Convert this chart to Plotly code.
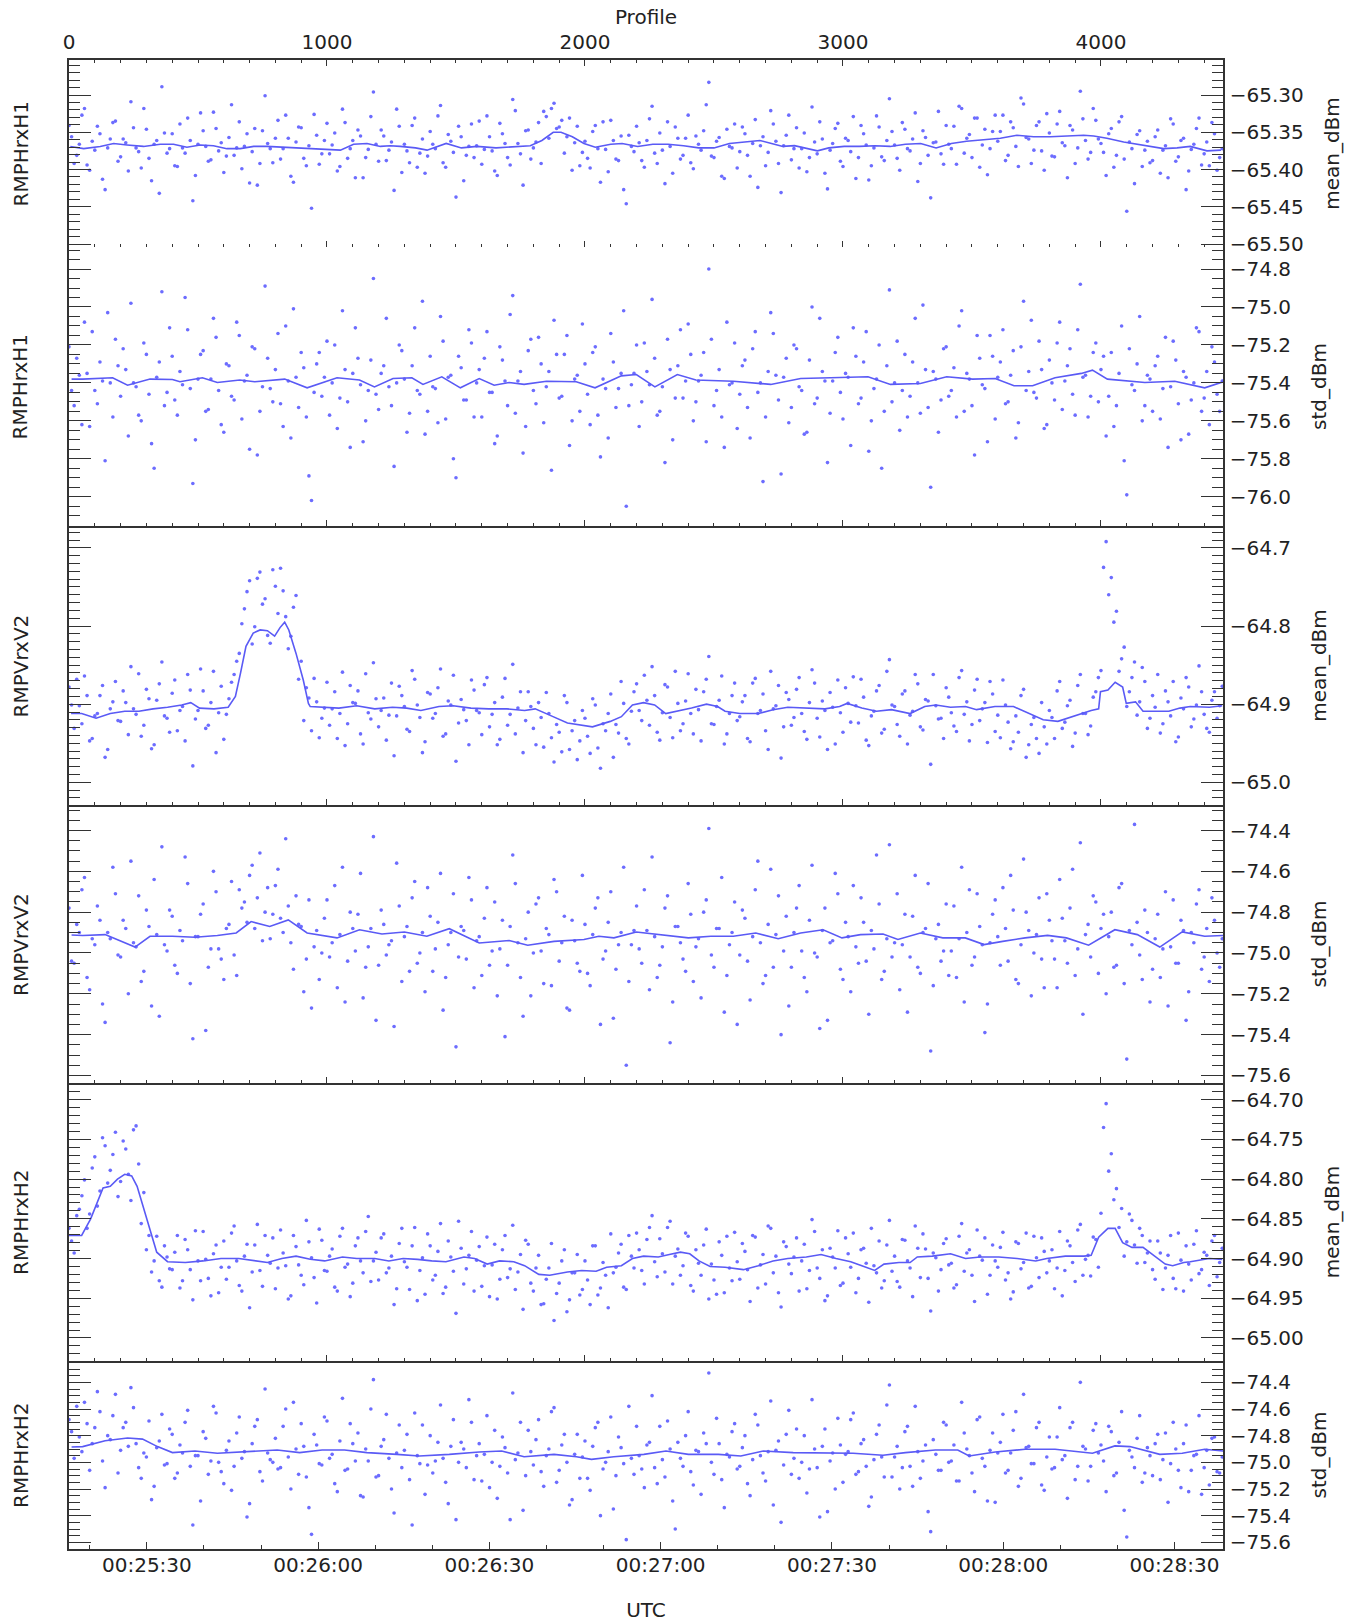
import plotly.graph_objects as go
from plotly.subplots import make_subplots

# axis extents (profile number on top, UTC on bottom)
PROFILE_MAX = 4473
T_START = "2024-01-01 00:25:16.36"
T_END = "2024-01-01 00:28:38.50"

ROW_LABELS = ["RMPHrxH1", "RMPHrxH1", "RMPVrxV2", "RMPVrxV2", "RMPHrxH2", "RMPHrxH2"]
UNIT_LABELS = ["mean_dBm", "std_dBm", "mean_dBm", "std_dBm", "mean_dBm", "std_dBm"]

# dots sampled every 20 profiles, two interleaved sets
SCATTER_PROFILE_A = list(range(0, 4480, 20))
SCATTER_PROFILE_B = list(range(10, 4490, 20))

H1_MEAN_PTS_A = [
    -65.341, -65.392, -65.366, -65.318, -65.401, -65.374, -65.352, -65.427, -65.359, -65.335,
    -65.383, -65.364, -65.309, -65.371, -65.398, -65.346, -65.415, -65.361, -65.289, -65.378,
    -65.352, -65.396, -65.371, -65.331, -65.442, -65.366, -65.348, -65.389, -65.323, -65.375,
    -65.404, -65.357, -65.381, -65.336, -65.369, -65.418, -65.345, -65.392, -65.301, -65.372,
    -65.358, -65.386, -65.327, -65.409, -65.363, -65.344, -65.395, -65.452, -65.354, -65.379,
    -65.338, -65.367, -65.402, -65.319, -65.385, -65.361, -65.347, -65.411, -65.373, -65.296,
    -65.389, -65.355, -65.374, -65.428, -65.342, -65.366, -65.391, -65.331, -65.378, -65.405,
    -65.349, -65.372, -65.314, -65.397, -65.362, -65.437, -65.356, -65.381, -65.339, -65.368,
    -65.393, -65.328, -65.375, -65.408, -65.352, -65.384, -65.306, -65.365, -65.421, -65.347,
    -65.371, -65.337, -65.322, -65.358, -65.311, -65.343, -65.378, -65.331, -65.364, -65.395,
    -65.362, -65.398, -65.341, -65.417, -65.373, -65.334, -65.386, -65.355, -65.446, -65.369,
    -65.342, -65.388, -65.361, -65.315, -65.392, -65.374, -65.336, -65.405, -65.358, -65.381,
    -65.327, -65.399, -65.366, -65.348, -65.283, -65.384, -65.357, -65.412, -65.369, -65.339,
    -65.376, -65.352, -65.409, -65.333, -65.368, -65.395, -65.321, -65.362, -65.431, -65.354,
    -65.387, -65.344, -65.372, -65.403, -65.316, -65.379, -65.359, -65.426, -65.365, -65.338,
    -65.396, -65.361, -65.329, -65.384, -65.352, -65.414, -65.371, -65.343, -65.388, -65.305,
    -65.367, -65.401, -65.346, -65.375, -65.324, -65.392, -65.357, -65.438, -65.363, -65.379,
    -65.341, -65.372, -65.393, -65.318, -65.358, -65.384, -65.331, -65.367, -65.407, -65.349,
    -65.362, -65.327, -65.381, -65.344, -65.396, -65.312, -65.359, -65.374, -65.336, -65.401,
    -65.351, -65.383, -65.322, -65.368, -65.341, -65.392, -65.295, -65.361, -65.377, -65.334,
    -65.365, -65.408, -65.345, -65.381, -65.329, -65.456, -65.372, -65.353, -65.396, -65.362,
    -65.388, -65.347, -65.374, -65.411, -65.339, -65.383, -65.358, -65.402, -65.366, -65.331,
    -65.379, -65.395, -65.352, -65.384,
]
H1_MEAN_PTS_B = [
    -65.356, -65.381, -65.327, -65.394, -65.362, -65.342, -65.413, -65.371, -65.337, -65.389,
    -65.359, -65.402, -65.344, -65.376, -65.318, -65.385, -65.366, -65.432, -65.351, -65.372,
    -65.395, -65.339, -65.378, -65.361, -65.408, -65.324, -65.369, -65.387, -65.345, -65.364,
    -65.382, -65.313, -65.371, -65.399, -65.352, -65.376, -65.421, -65.348, -65.365, -65.391,
    -65.334, -65.372, -65.358, -65.417, -65.343, -65.385, -65.368, -65.326, -65.393, -65.361,
    -65.379, -65.351, -65.396, -65.337, -65.372, -65.411, -65.355, -65.384, -65.329, -65.366,
    -65.347, -65.388, -65.363, -65.319, -65.404, -65.375, -65.341, -65.397, -65.359, -65.382,
    -65.366, -65.328, -65.391, -65.353, -65.377, -65.342, -65.415, -65.369, -65.384, -65.335,
    -65.373, -65.356, -65.402, -65.338, -65.365, -65.394, -65.321, -65.379, -65.348, -65.386,
    -65.363, -65.392, -65.329, -65.318, -65.345, -65.334, -65.356, -65.401, -65.342, -65.377,
    -65.385, -65.349, -65.372, -65.336, -65.403, -65.361, -65.388, -65.427, -65.354, -65.376,
    -65.364, -65.397, -65.332, -65.378, -65.351, -65.419, -65.369, -65.343, -65.386, -65.358,
    -65.391, -65.355, -65.374, -65.313, -65.382, -65.362, -65.409, -65.346, -65.371, -65.398,
    -65.343, -65.381, -65.365, -65.424, -65.356, -65.377, -65.339, -65.392, -65.368, -65.327,
    -65.372, -65.398, -65.351, -65.384, -65.363, -65.336, -65.405, -65.374, -65.345, -65.389,
    -65.358, -65.376, -65.412, -65.341, -65.367, -65.395, -65.328, -65.383, -65.361, -65.349,
    -65.385, -65.337, -65.372, -65.359, -65.416, -65.348, -65.381, -65.364, -65.322, -65.393,
    -65.366, -65.342, -65.315, -65.378, -65.353, -65.331, -65.397, -65.346, -65.372, -65.327,
    -65.349, -65.388, -65.336, -65.369, -65.304, -65.357, -65.392, -65.341, -65.375, -65.325,
    -65.382, -65.339, -65.364, -65.411, -65.347, -65.371, -65.332, -65.386, -65.318, -65.359,
    -65.377, -65.352, -65.397, -65.336, -65.386, -65.363, -65.419, -65.348, -65.374, -65.391,
    -65.356, -65.405, -65.368, -65.332, -65.389, -65.361, -65.427, -65.373, -65.345, -65.394,
    -65.363, -65.337, -65.401, -65.372,
]
H1_STD_PTS_A = [
    -75.21, -75.52, -75.36, -75.08, -75.63, -75.44, -75.29, -75.81, -75.40, -75.17,
    -75.47, -75.33, -74.98, -75.42, -75.60, -75.25, -75.72, -75.37, -74.92, -75.45,
    -75.26, -75.57, -75.41, -75.12, -75.93, -75.38, -75.23, -75.54, -75.06, -75.44,
    -75.66, -75.31, -75.49, -75.15, -75.39, -75.75, -75.22, -75.55, -74.89, -75.43,
    -75.33, -75.51, -75.10, -75.69, -75.37, -75.24, -75.58, -76.02, -75.30, -75.47,
    -75.18, -75.40, -75.64, -75.02, -75.50, -75.35, -75.27, -75.71, -75.44, -74.85,
    -75.54, -75.31, -75.42, -75.84, -75.20, -75.38, -75.56, -75.11, -75.46, -75.67,
    -75.26, -75.43, -75.05, -75.59, -75.36, -75.90, -75.32, -75.49, -75.19, -75.40,
    -75.58, -75.13, -75.45, -75.68, -75.28, -75.52, -74.94, -75.39, -75.77, -75.23,
    -75.44, -75.16, -75.61, -75.34, -75.07, -75.48, -75.25, -75.73, -75.38, -75.55,
    -75.30, -75.62, -75.21, -75.79, -75.43, -75.14, -75.53, -75.35, -76.05, -75.41,
    -75.20, -75.50, -75.34, -74.96, -75.57, -75.42, -75.17, -75.70, -75.31, -75.48,
    -75.09, -75.60, -75.39, -75.24, -74.80, -75.52, -75.33, -75.74, -75.41, -75.19,
    -75.46, -75.28, -75.69, -75.13, -75.40, -75.58, -75.03, -75.36, -75.88, -75.27,
    -75.53, -75.22, -75.44, -75.66, -75.00, -75.48, -75.34, -75.82, -75.39, -75.16,
    -75.59, -75.37, -75.11, -75.51, -75.29, -75.76, -75.43, -75.20, -75.55, -74.91,
    -75.40, -75.65, -75.25, -75.47, -75.06, -75.56, -75.33, -75.95, -75.38, -75.49,
    -75.21, -75.44, -75.58, -75.02, -75.35, -75.52, -75.15, -75.41, -75.71, -75.26,
    -75.37, -75.12, -75.50, -75.23, -75.61, -74.97, -75.34, -75.45, -75.18, -75.64,
    -75.28, -75.49, -75.08, -75.39, -75.22, -75.57, -74.88, -75.36, -75.47, -75.19,
    -75.33, -75.68, -75.24, -75.52, -75.10, -75.99, -75.41, -75.30, -75.60, -75.36,
    -75.55, -75.26, -75.43, -75.74, -75.18, -75.51, -75.34, -75.67, -75.40, -75.13,
    -75.48, -75.62, -75.29, -75.55,
]
H1_STD_PTS_B = [
    -75.44, -75.27, -75.62, -75.35, -75.13, -75.51, -75.39, -75.03, -75.58, -75.31,
    -75.22, -75.68, -75.40, -75.57, -75.19, -75.46, -75.85, -75.29, -75.52, -75.11,
    -75.49, -75.34, -74.95, -75.43, -75.70, -75.25, -75.55, -75.38, -75.16, -75.62,
    -75.30, -75.47, -75.08, -75.59, -75.36, -75.21, -75.78, -75.42, -75.27, -75.50,
    -75.14, -75.63, -75.39, -75.01, -75.53, -75.32, -75.89, -75.45, -75.24, -75.37,
    -75.57, -75.20, -75.48, -75.33, -75.74, -75.11, -75.41, -75.60, -75.28, -75.46,
    -75.35, -75.06, -75.52, -75.40, -75.23, -75.66, -75.31, -75.44, -74.97, -75.55,
    -75.42, -75.61, -75.18, -75.37, -75.80, -75.26, -75.49, -75.12, -75.58, -75.33,
    -75.27, -75.45, -75.72, -75.21, -75.39, -75.04, -75.56, -75.34, -75.63, -75.17,
    -75.51, -75.30, -75.42, -75.86, -75.25, -75.47, -75.15, -75.60, -75.36, -75.09,
    -75.46, -75.24, -75.57, -75.38, -75.69, -75.29, -75.43, -75.02, -75.52, -75.35,
    -75.63, -75.19, -75.41, -75.27, -75.55, -75.82, -75.33, -75.48, -75.12, -75.39,
    -75.25, -75.50, -75.36, -75.71, -75.17, -75.44, -75.58, -75.08, -75.40, -75.64,
    -75.31, -75.53, -75.22, -75.45, -75.92, -75.34, -75.14, -75.49, -75.37, -75.61,
    -75.20, -75.42, -75.67, -75.28, -75.51, -75.06, -75.39, -75.56, -75.24, -75.45,
    -75.35, -75.73, -75.26, -75.48, -75.13, -75.60, -75.38, -75.85, -75.31, -75.50,
    -75.18, -75.44, -75.58, -75.29, -75.40, -74.99, -75.53, -75.34, -75.66, -75.22,
    -75.47, -75.32, -75.10, -75.55, -75.38, -75.78, -75.27, -75.43, -75.15, -75.59,
    -75.29, -75.51, -75.36, -75.69, -75.21, -75.44, -75.07, -75.48, -75.33, -75.62,
    -75.40, -75.19, -75.54, -75.31, -75.46, -75.12, -75.37, -75.58, -75.24, -75.50,
    -75.26, -75.47, -75.63, -75.35, -75.81, -75.22, -75.44, -75.05, -75.52, -75.38,
    -75.31, -75.59, -75.16, -75.42, -75.28, -75.70, -75.37, -75.49, -75.11, -75.55,
    -75.34, -75.21, -75.46, -75.39,
]
V2_MEAN_PTS_A = [
    -64.878, -64.931, -64.902, -64.864, -64.947, -64.915, -64.889, -64.968, -64.906, -64.871,
    -64.922, -64.898, -64.852, -64.913, -64.941, -64.881, -64.957, -64.895, -64.846, -64.918,
    -64.886, -64.934, -64.903, -64.862, -64.979, -64.908, -64.883, -64.927, -64.858, -64.911,
    -64.945, -64.893, -64.862, -64.835, -64.778, -64.742, -64.801, -64.731, -64.765, -64.822,
    -64.749, -64.726, -64.788, -64.813, -64.761, -64.845, -64.879, -64.934, -64.897, -64.918,
    -64.872, -64.906, -64.944, -64.859, -64.925, -64.898, -64.883, -64.951, -64.911, -64.847,
    -64.929, -64.892, -64.914, -64.966, -64.877, -64.903, -64.935, -64.868, -64.917, -64.948,
    -64.887, -64.912, -64.855, -64.938, -64.901, -64.973, -64.894, -64.921, -64.869, -64.908,
    -64.939, -64.866, -64.913, -64.952, -64.891, -64.927, -64.849, -64.905, -64.962, -64.884,
    -64.931, -64.898, -64.955, -64.912, -64.974, -64.936, -64.889, -64.958, -64.921, -64.947,
    -64.918, -64.963, -64.901, -64.982, -64.934, -64.887, -64.926, -64.871, -64.944, -64.909,
    -64.874, -64.921, -64.895, -64.852, -64.936, -64.911, -64.878, -64.943, -64.899, -64.925,
    -64.861, -64.938, -64.907, -64.884, -64.839, -64.926, -64.895, -64.951, -64.912, -64.873,
    -64.916, -64.889, -64.948, -64.867, -64.908, -64.934, -64.858, -64.902, -64.969, -64.885,
    -64.927, -64.881, -64.912, -64.945, -64.856, -64.918, -64.896, -64.958, -64.904, -64.869,
    -64.936, -64.899, -64.865, -64.924, -64.891, -64.953, -64.909, -64.876, -64.932, -64.843,
    -64.903, -64.941, -64.883, -64.914, -64.862, -64.929, -64.894, -64.977, -64.902, -64.918,
    -64.879, -64.911, -64.935, -64.857, -64.897, -64.926, -64.868, -64.906, -64.949, -64.887,
    -64.914, -64.869, -64.923, -64.948, -64.936, -64.881, -64.952, -64.917, -64.963, -64.929,
    -64.908, -64.944, -64.871, -64.923, -64.895, -64.937, -64.862, -64.912, -64.928, -64.884,
    -64.857, -64.692, -64.738, -64.781, -64.842, -64.903, -64.866, -64.914, -64.853, -64.931,
    -64.889, -64.862, -64.925, -64.897, -64.871, -64.942, -64.906, -64.878, -64.919, -64.851,
    -64.913, -64.936, -64.884, -64.902,
]
V2_MEAN_PTS_B = [
    -64.901, -64.868, -64.925, -64.889, -64.944, -64.912, -64.876, -64.958, -64.897, -64.921,
    -64.883, -64.939, -64.906, -64.861, -64.927, -64.893, -64.952, -64.874, -64.915, -64.936,
    -64.869, -64.908, -64.947, -64.882, -64.919, -64.855, -64.931, -64.898, -64.962, -64.877,
    -64.913, -64.872, -64.845, -64.797, -64.756, -64.823, -64.739, -64.772, -64.812, -64.728,
    -64.784, -64.755, -64.829, -64.776, -64.868, -64.921, -64.892, -64.867, -64.943, -64.905,
    -64.927, -64.884, -64.912, -64.953, -64.876, -64.899, -64.938, -64.861, -64.919, -64.893,
    -64.908, -64.946, -64.873, -64.915, -64.889, -64.932, -64.857, -64.901, -64.962, -64.885,
    -64.918, -64.879, -64.941, -64.896, -64.863, -64.924, -64.907, -64.952, -64.882, -64.911,
    -64.875, -64.929, -64.898, -64.945, -64.867, -64.913, -64.938, -64.884, -64.921, -64.903,
    -64.952, -64.917, -64.885, -64.943, -64.926, -64.961, -64.898, -64.934, -64.971, -64.908,
    -64.941, -64.893, -64.956, -64.925, -64.912, -64.968, -64.937, -64.899, -64.951, -64.884,
    -64.908, -64.863, -64.927, -64.889, -64.946, -64.875, -64.917, -64.858, -64.934, -64.896,
    -64.912, -64.881, -64.947, -64.868, -64.925, -64.903, -64.864, -64.938, -64.889, -64.921,
    -64.897, -64.944, -64.873, -64.912, -64.887, -64.958, -64.906, -64.876, -64.929, -64.894,
    -64.917, -64.866, -64.935, -64.898, -64.873, -64.942, -64.908, -64.885, -64.951, -64.911,
    -64.879, -64.923, -64.902, -64.868, -64.946, -64.915, -64.883, -64.937, -64.858, -64.901,
    -64.926, -64.887, -64.951, -64.909, -64.874, -64.933, -64.896, -64.862, -64.919, -64.944,
    -64.891, -64.928, -64.866, -64.913, -64.947, -64.882, -64.921, -64.898, -64.871, -64.935,
    -64.943, -64.901, -64.957, -64.915, -64.889, -64.968, -64.926, -64.944, -64.898, -64.951,
    -64.917, -64.883, -64.931, -64.902, -64.954, -64.876, -64.912, -64.939, -64.891, -64.866,
    -64.725, -64.760, -64.795, -64.858, -64.827, -64.884, -64.846, -64.897, -64.871, -64.918,
    -64.904, -64.937, -64.883, -64.915, -64.948, -64.892, -64.866, -64.929, -64.901, -64.884,
    -64.931, -64.895, -64.918, -64.877,
]
V2_STD_PTS_A = [
    -74.78, -75.05, -74.90, -74.63, -75.18, -74.96, -74.84, -75.34, -74.93, -74.71,
    -75.02, -74.88, -74.55, -74.97, -75.14, -74.79, -75.26, -74.91, -74.48, -74.99,
    -74.82, -75.10, -74.94, -74.66, -75.42, -74.92, -74.76, -75.07, -74.60, -74.98,
    -75.13, -74.86, -75.01, -74.69, -74.75, -74.62, -74.88, -74.51, -74.80, -74.93,
    -74.67, -74.83, -74.44, -74.95, -74.72, -74.87, -75.03, -75.27, -74.89, -75.00,
    -74.74, -74.95, -75.17, -74.58, -75.04, -74.88, -74.81, -75.22, -74.97, -74.43,
    -75.06, -74.86, -74.96, -75.36, -74.77, -74.92, -75.09, -74.65, -75.00, -75.19,
    -74.82, -74.98, -74.61, -75.12, -74.90, -75.46, -74.87, -75.03, -74.74, -74.94,
    -75.11, -74.68, -74.99, -75.21, -74.84, -75.06, -74.52, -74.95, -75.31, -74.80,
    -75.00, -74.73, -75.15, -74.91, -74.64, -75.04, -74.82, -75.28, -74.94, -75.09,
    -74.86, -75.16, -74.78, -75.35, -74.99, -74.70, -75.08, -74.90, -75.55, -74.96,
    -74.77, -75.05, -74.89, -74.53, -75.12, -74.97, -74.72, -75.24, -74.87, -75.03,
    -74.66, -75.14, -74.93, -74.80, -74.39, -75.07, -74.88, -75.29, -74.96, -74.75,
    -75.01, -74.83, -75.23, -74.69, -74.95, -75.11, -74.59, -74.91, -75.40, -74.82,
    -75.07, -74.78, -74.99, -75.19, -74.57, -75.02, -74.89, -75.33, -74.94, -74.71,
    -75.13, -74.92, -74.67, -75.05, -74.85, -75.30, -74.98, -74.76, -75.09, -74.47,
    -74.95, -75.18, -74.81, -75.02, -74.62, -75.10, -74.88, -75.48, -74.93, -75.04,
    -74.76, -74.99, -75.12, -74.58, -74.90, -75.06, -74.71, -74.96, -75.25, -74.81,
    -74.92, -74.68, -75.04, -74.79, -75.15, -74.54, -74.89, -75.00, -74.73, -75.17,
    -74.84, -75.03, -74.64, -74.94, -74.78, -75.11, -74.46, -74.91, -75.02, -74.75,
    -74.88, -75.20, -74.80, -75.06, -74.66, -75.52, -74.96, -74.85, -75.13, -74.90,
    -75.08, -74.81, -74.98, -75.26, -74.74, -75.05, -74.89, -75.19, -74.95, -74.69,
    -75.02, -75.14, -74.84, -75.07,
]
V2_STD_PTS_B = [
    -75.04, -74.86, -74.69, -75.12, -74.93, -74.77, -75.25, -74.90, -74.58, -75.01,
    -74.84, -75.20, -74.95, -74.72, -75.09, -74.87, -74.64, -75.31, -74.96, -74.79,
    -75.06, -74.89, -74.53, -75.15, -74.92, -74.81, -75.38, -74.98, -74.70, -75.03,
    -74.88, -74.65, -75.11, -74.78, -74.85, -74.57, -74.73, -74.94, -74.68, -74.81,
    -74.59, -74.90, -74.77, -75.08, -74.86, -75.19, -74.74, -74.97, -75.13, -74.83,
    -75.02, -74.67, -74.91, -75.24, -74.80, -74.99, -74.61, -75.07, -74.88, -75.33,
    -74.79, -75.01, -74.94, -74.56, -75.14, -74.87, -74.73, -75.05, -74.90, -74.68,
    -75.09, -74.85, -75.28, -74.96, -74.71, -75.02, -74.89, -74.63, -75.17, -74.92,
    -74.83, -75.06, -74.75, -74.98, -75.41, -74.87, -74.66, -75.12, -74.93, -75.21,
    -74.76, -74.99, -74.88, -75.16, -74.70, -74.95, -75.27, -74.84, -75.05, -74.62,
    -75.10, -74.91, -74.73, -75.03, -74.85, -75.32, -74.96, -74.58, -75.14, -74.89,
    -74.98, -74.69, -75.18, -74.92, -75.06, -74.78, -75.44, -74.87, -74.95, -75.09,
    -74.81, -74.97, -75.22, -74.74, -75.01, -74.88, -74.63, -75.11, -74.90, -75.35,
    -74.79, -75.04, -74.92, -74.55, -75.15, -74.86, -75.07, -74.72, -74.99, -75.26,
    -74.90, -74.67, -75.12, -74.84, -75.00, -75.37, -74.78, -74.95, -74.61, -75.08,
    -74.85, -75.19, -74.97, -74.73, -75.04, -74.89, -74.52, -75.13, -74.93, -75.02,
    -74.71, -74.96, -75.29, -74.82, -75.07, -74.90, -74.66, -75.16, -74.86, -74.99,
    -75.11, -74.77, -74.93, -75.24, -74.69, -75.02, -74.87, -75.39, -74.95, -74.74,
    -75.06, -74.88, -74.62, -75.13, -74.96, -74.80, -75.21, -74.91, -75.03, -74.71,
    -74.94, -75.17, -74.83, -75.05, -74.59, -74.98, -75.30, -74.86, -74.72, -75.10,
    -74.81, -74.92, -75.07, -74.68, -75.15, -74.89, -74.37, -75.01, -74.79, -75.24,
    -74.93, -75.12, -74.70, -74.97, -75.05, -74.84, -75.33, -74.90, -74.76, -75.08,
    -74.88, -74.73, -75.00, -74.93,
]
H2_MEAN_PTS_A = [
    -64.862, -64.893, -64.838, -64.801, -64.844, -64.772, -64.815, -64.758, -64.789, -64.741,
    -64.803, -64.762, -64.827, -64.733, -64.856, -64.889, -64.917, -64.872, -64.936, -64.898,
    -64.914, -64.871, -64.928, -64.889, -64.952, -64.903, -64.866, -64.925, -64.894, -64.943,
    -64.878, -64.911, -64.859, -64.934, -64.897, -64.962, -64.883, -64.915, -64.871, -64.906,
    -64.938, -64.864, -64.909, -64.947, -64.885, -64.921, -64.852, -64.899, -64.956, -64.877,
    -64.916, -64.888, -64.941, -64.862, -64.907, -64.931, -64.874, -64.918, -64.847, -64.903,
    -64.927, -64.869, -64.912, -64.958, -64.881, -64.904, -64.939, -64.861, -64.915, -64.945,
    -64.884, -64.921, -64.856, -64.936, -64.898, -64.969, -64.887, -64.913, -64.866, -64.902,
    -64.935, -64.873, -64.908, -64.951, -64.889, -64.924, -64.858, -64.917, -64.964, -64.882,
    -64.941, -64.896, -64.957, -64.912, -64.978, -64.931, -64.889, -64.952, -64.918, -64.946,
    -64.903, -64.958, -64.884, -64.937, -64.921, -64.869, -64.911, -64.882, -64.939, -64.897,
    -64.868, -64.915, -64.876, -64.846, -64.923, -64.894, -64.861, -64.932, -64.888, -64.909,
    -64.872, -64.941, -64.906, -64.883, -64.951, -64.927, -64.879, -64.943, -64.912, -64.867,
    -64.926, -64.891, -64.954, -64.873, -64.908, -64.932, -64.862, -64.897, -64.961, -64.885,
    -64.919, -64.874, -64.903, -64.938, -64.851, -64.912, -64.889, -64.947, -64.898, -64.865,
    -64.931, -64.894, -64.868, -64.925, -64.887, -64.955, -64.909, -64.878, -64.928, -64.852,
    -64.897, -64.936, -64.877, -64.912, -64.859, -64.924, -64.888, -64.966, -64.899, -64.914,
    -64.875, -64.906, -64.933, -64.856, -64.893, -64.921, -64.864, -64.902, -64.945, -64.883,
    -64.911, -64.867, -64.918, -64.942, -64.881, -64.905, -64.937, -64.872, -64.924, -64.891,
    -64.903, -64.938, -64.866, -64.915, -64.884, -64.929, -64.857, -64.901, -64.922, -64.876,
    -64.843, -64.705, -64.768, -64.812, -64.837, -64.879, -64.852, -64.906, -64.871, -64.893,
    -64.914, -64.878, -64.939, -64.896, -64.925, -64.868, -64.941, -64.907, -64.882, -64.919,
    -64.892, -64.934, -64.871, -64.905,
]
H2_MEAN_PTS_B = [
    -64.878, -64.846, -64.821, -64.862, -64.786, -64.834, -64.748, -64.805, -64.769, -64.822,
    -64.752, -64.794, -64.738, -64.781, -64.817, -64.871, -64.903, -64.928, -64.884, -64.913,
    -64.892, -64.937, -64.876, -64.914, -64.865, -64.928, -64.901, -64.947, -64.883, -64.911,
    -64.926, -64.868, -64.903, -64.941, -64.882, -64.917, -64.857, -64.935, -64.896, -64.874,
    -64.912, -64.893, -64.951, -64.871, -64.908, -64.933, -64.879, -64.924, -64.863, -64.915,
    -64.897, -64.936, -64.872, -64.911, -64.948, -64.884, -64.903, -64.866, -64.929, -64.892,
    -64.874, -64.918, -64.897, -64.938, -64.862, -64.911, -64.884, -64.953, -64.899, -64.869,
    -64.927, -64.891, -64.944, -64.878, -64.916, -64.853, -64.932, -64.896, -64.941, -64.885,
    -64.909, -64.948, -64.882, -64.926, -64.871, -64.913, -64.939, -64.895, -64.877, -64.931,
    -64.912, -64.958, -64.926, -64.881, -64.944, -64.903, -64.967, -64.918, -64.895, -64.939,
    -64.927, -64.884, -64.946, -64.905, -64.962, -64.918, -64.893, -64.936, -64.871, -64.912,
    -64.889, -64.932, -64.861, -64.904, -64.875, -64.917, -64.853, -64.897, -64.921, -64.868,
    -64.934, -64.889, -64.921, -64.863, -64.907, -64.945, -64.896, -64.872, -64.928, -64.904,
    -64.881, -64.914, -64.871, -64.937, -64.895, -64.859, -64.918, -64.943, -64.879, -64.907,
    -64.898, -64.941, -64.882, -64.915, -64.866, -64.925, -64.953, -64.887, -64.912, -64.934,
    -64.874, -64.911, -64.943, -64.889, -64.906, -64.862, -64.918, -64.937, -64.883, -64.916,
    -64.929, -64.876, -64.903, -64.948, -64.887, -64.869, -64.925, -64.893, -64.941, -64.881,
    -64.908, -64.937, -64.872, -64.916, -64.889, -64.954, -64.897, -64.874, -64.921, -64.903,
    -64.886, -64.927, -64.951, -64.879, -64.913, -64.868, -64.935, -64.899, -64.874, -64.918,
    -64.889, -64.912, -64.947, -64.878, -64.905, -64.864, -64.921, -64.896, -64.873, -64.911,
    -64.735, -64.790, -64.826, -64.861, -64.897, -64.844, -64.883, -64.862, -64.905, -64.878,
    -64.926, -64.893, -64.912, -64.871, -64.938, -64.902, -64.884, -64.927, -64.865, -64.914,
    -64.896, -64.878, -64.923, -64.887,
]
H2_STD_PTS_A = [
    -74.68, -74.97, -74.81, -74.55, -75.06, -74.74, -74.62, -75.19, -74.83, -74.49,
    -74.91, -74.70, -74.44, -74.86, -75.12, -74.96, -75.28, -74.89, -74.64, -75.01,
    -74.79, -75.08, -74.93, -74.61, -75.47, -74.95, -74.77, -75.09, -74.58, -75.00,
    -75.16, -74.84, -75.03, -74.66, -74.92, -75.31, -74.73, -75.07, -74.45, -74.98,
    -74.82, -75.04, -74.60, -75.20, -74.90, -74.71, -75.11, -75.54, -74.87, -75.02,
    -74.69, -74.94, -75.22, -74.52, -75.05, -74.86, -74.78, -75.26, -74.99, -74.38,
    -75.10, -74.83, -74.97, -75.38, -74.72, -74.91, -75.13, -74.63, -75.01, -75.24,
    -74.80, -74.99, -74.57, -75.15, -74.88, -75.43, -74.85, -75.04, -74.70, -74.95,
    -75.14, -74.65, -75.00, -75.27, -74.81, -75.08, -74.48, -74.93, -75.36, -74.76,
    -75.02, -74.68, -75.18, -74.90, -74.59, -75.06, -74.79, -75.32, -74.94, -75.12,
    -74.84, -75.21, -74.74, -75.40, -75.00, -74.66, -75.10, -74.89, -75.58, -74.97,
    -74.73, -75.05, -74.87, -74.50, -75.16, -74.98, -74.69, -75.29, -74.85, -75.03,
    -74.62, -75.17, -74.92, -74.78, -74.33, -75.09, -74.86, -75.34, -74.96, -74.71,
    -75.03, -74.80, -75.25, -74.64, -74.95, -75.14, -74.54, -74.91, -75.45, -74.79,
    -75.09, -74.75, -75.00, -75.23, -74.53, -75.04, -74.88, -75.37, -74.93, -74.67,
    -75.15, -74.92, -74.63, -75.07, -74.83, -75.33, -74.98, -74.72, -75.11, -74.42,
    -74.96, -75.20, -74.77, -75.03, -74.58, -75.12, -74.87, -75.52, -74.94, -75.06,
    -74.72, -74.99, -75.14, -74.55, -74.90, -75.08, -74.68, -74.97, -75.29, -74.78,
    -74.93, -74.64, -75.06, -74.76, -75.18, -74.49, -74.88, -75.01, -74.70, -75.21,
    -74.81, -75.04, -74.59, -74.95, -74.74, -75.13, -74.40, -74.90, -75.03, -74.71,
    -74.87, -75.22, -74.77, -75.08, -74.62, -75.56, -74.96, -74.82, -75.15, -74.89,
    -75.10, -74.79, -74.98, -75.30, -74.70, -75.06, -74.86, -75.22, -74.95, -74.65,
    -75.04, -75.17, -74.81, -75.08,
]
H2_STD_PTS_B = [
    -74.77, -74.58, -74.92, -74.71, -74.86, -74.47, -74.99, -74.80, -74.65, -75.08,
    -74.74, -74.88, -74.59, -75.04, -74.93, -74.69, -75.18, -74.84, -75.02, -74.75,
    -75.12, -74.87, -74.70, -75.03, -74.95, -75.29, -74.82, -74.99, -74.63, -75.07,
    -74.91, -75.21, -74.78, -74.97, -75.41, -74.86, -74.68, -75.14, -74.93, -75.00,
    -75.05, -74.73, -74.96, -74.55, -75.09, -74.88, -75.34, -74.79, -75.01, -74.66,
    -74.97, -75.16, -74.84, -75.06, -74.71, -74.99, -75.25, -74.90, -74.60, -75.11,
    -74.88, -74.64, -75.20, -74.93, -75.04, -74.79, -75.47, -74.95, -74.72, -75.02,
    -75.08, -74.85, -74.97, -75.31, -74.68, -75.00, -74.90, -74.53, -75.13, -74.86,
    -74.94, -75.19, -74.76, -75.03, -74.89, -75.43, -74.98, -74.70, -75.10, -74.92,
    -74.83, -75.07, -74.95, -74.62, -75.15, -74.87, -75.00, -75.28, -74.79, -74.96,
    -75.12, -74.88, -74.70, -75.05, -74.92, -75.35, -74.81, -75.01, -74.58, -75.09,
    -74.95, -75.19, -74.85, -75.04, -74.73, -75.11, -74.90, -75.50, -74.97, -74.80,
    -75.07, -74.91, -75.24, -74.86, -75.00, -74.67, -75.13, -74.94, -74.77, -75.05,
    -74.89, -75.16, -74.98, -74.72, -75.08, -74.92, -75.32, -74.84, -75.02, -74.61,
    -74.97, -75.12, -74.80, -75.05, -74.90, -75.41, -74.75, -74.99, -75.20, -74.87,
    -74.94, -74.68, -75.09, -74.86, -75.03, -75.26, -74.79, -74.96, -74.57, -75.11,
    -74.88, -75.04, -74.73, -75.18, -74.92, -74.99, -75.37, -74.83, -75.06, -74.70,
    -75.00, -74.87, -75.14, -74.78, -74.95, -75.22, -74.66, -75.03, -74.91, -75.30,
    -74.85, -75.08, -74.93, -74.62, -75.12, -74.89, -75.01, -74.74, -75.17, -74.96,
    -75.05, -74.81, -74.98, -75.27, -74.70, -75.03, -74.88, -75.14, -74.76, -74.93,
    -74.99, -74.73, -75.10, -74.85, -75.36, -74.91, -75.04, -74.65, -75.08, -74.95,
    -74.86, -75.13, -74.78, -75.01, -74.90, -75.19, -74.72, -75.06, -74.94, -75.24,
    -74.91, -74.82, -75.07, -74.96,
]

# running-mean curves (profile, value)
H1_MEAN_LINE_PROF = [5, 57, 121, 173, 225, 289, 354, 405, 457, 509, 560, 612, 664, 716, 767, 832, 897, 961, 1052, 1103,
                     1155, 1207, 1245, 1284, 1343, 1388, 1462, 1521, 1581, 1655, 1729, 1788, 1833, 1877, 1907, 1951, 1996, 2040, 2100, 2144,
                     2204, 2263, 2322, 2382, 2441, 2500, 2560, 2619, 2678, 2723, 2767, 2812, 2856, 2901, 2945, 3005, 3064, 3123, 3183, 3242,
                     3301, 3361, 3420, 3479, 3545, 3610, 3674, 3739, 3804, 3868, 3933, 3972, 4023, 4088, 4140, 4191, 4243, 4295, 4346, 4411, 4465]
H1_MEAN_LINE = [-65.369, -65.372, -65.369, -65.365, -65.367, -65.369, -65.366, -65.366, -65.370, -65.367,
                -65.368, -65.372, -65.372, -65.369, -65.369, -65.370, -65.372, -65.373, -65.374, -65.366,
                -65.365, -65.369, -65.368, -65.369, -65.371, -65.374, -65.365, -65.371, -65.369, -65.371,
                -65.369, -65.368, -65.361, -65.350, -65.350, -65.356, -65.365, -65.370, -65.366, -65.365,
                -65.369, -65.366, -65.366, -65.368, -65.371, -65.371, -65.365, -65.363, -65.361, -65.365,
                -65.369, -65.368, -65.371, -65.375, -65.371, -65.369, -65.369, -65.368, -65.369, -65.366,
                -65.365, -65.371, -65.365, -65.362, -65.360, -65.358, -65.354, -65.356, -65.356, -65.355,
                -65.354, -65.355, -65.358, -65.363, -65.366, -65.369, -65.372, -65.371, -65.369, -65.375, -65.374]

H1_STD_LINE_PROF = [10, 53, 169, 227, 314, 401, 430, 517, 575, 662, 720, 836, 923, 1039, 1126, 1184, 1256, 1329, 1372, 1445,
                    1517, 1590, 1648, 1706, 1764, 1851, 1966, 2039, 2141, 2199, 2271, 2358, 2430, 2575, 2720, 2836, 2952, 3097, 3184, 3300,
                    3402, 3503, 3590, 3663, 3735, 3822, 3924, 3967, 4025, 4170, 4286, 4402, 4474]
H1_STD_LINE = [-75.380, -75.380, -75.373, -75.412, -75.380, -75.382, -75.394, -75.373, -75.398, -75.385, -75.394,
               -75.380, -75.426, -75.373, -75.385, -75.421, -75.377, -75.373, -75.408, -75.368, -75.426,
               -75.377, -75.412, -75.398, -75.408, -75.391, -75.394, -75.426, -75.363, -75.356, -75.421,
               -75.356, -75.385, -75.391, -75.408, -75.377, -75.373, -75.368, -75.408, -75.403, -75.368,
               -75.380, -75.377, -75.415, -75.415, -75.373, -75.350, -75.333, -75.380, -75.398, -75.391,
               -75.426, -75.394]

V2_MEAN_LINE_PROF = [8, 49, 105, 160, 216, 271, 326, 382, 437, 472, 506, 562, 617, 645, 665, 686, 714, 741, 769, 797,
                     818, 836, 852, 880, 908, 928, 935, 991, 1046, 1115, 1185, 1254, 1309, 1364, 1434, 1489, 1558, 1627, 1697, 1766,
                     1807, 1863, 1932, 2029, 2098, 2141, 2184, 2227, 2270, 2313, 2356, 2413, 2471, 2514, 2543, 2600, 2672, 2729, 2786, 2858,
                     2930, 2987, 3016, 3073, 3130, 3188, 3260, 3317, 3360, 3417, 3475, 3518, 3589, 3661, 3704, 3776, 3833, 3905, 3962, 3991,
                     3998, 4027, 4055, 4084, 4098, 4134, 4163, 4206, 4263, 4306, 4346, 4420, 4470]
V2_MEAN_LINE = [-64.912, -64.912, -64.918, -64.912, -64.909, -64.909, -64.906, -64.904, -64.901, -64.898,
                -64.905, -64.906, -64.904, -64.890, -64.860, -64.826, -64.809, -64.805, -64.806, -64.813,
                -64.802, -64.795, -64.805, -64.835, -64.869, -64.899, -64.903, -64.904, -64.905, -64.902,
                -64.906, -64.904, -64.905, -64.908, -64.903, -64.902, -64.905, -64.906, -64.906, -64.908,
                -64.906, -64.914, -64.924, -64.929, -64.922, -64.916, -64.901, -64.898, -64.901, -64.912,
                -64.909, -64.905, -64.900, -64.903, -64.909, -64.912, -64.912, -64.907, -64.904, -64.905,
                -64.906, -64.903, -64.899, -64.905, -64.909, -64.907, -64.912, -64.903, -64.901, -64.904,
                -64.903, -64.907, -64.903, -64.903, -64.909, -64.920, -64.922, -64.914, -64.908, -64.906,
                -64.884, -64.882, -64.872, -64.878, -64.899, -64.897, -64.909, -64.909, -64.909, -64.905,
                -64.903, -64.904, -64.902]

V2_STD_LINE_PROF = [10, 53, 140, 198, 256, 314, 401, 488, 575, 648, 706, 778, 850, 923, 1039, 1126, 1213, 1300, 1387, 1474,
                    1590, 1706, 1778, 1880, 1996, 2054, 2112, 2199, 2285, 2401, 2488, 2575, 2662, 2749, 2836, 2923, 2996, 3068, 3155, 3213,
                    3300, 3387, 3474, 3547, 3619, 3706, 3793, 3866, 3952, 4054, 4141, 4228, 4315, 4402, 4474]
V2_STD_LINE = [-74.912, -74.914, -74.910, -74.939, -74.971, -74.918, -74.918, -74.923, -74.914, -74.902,
               -74.846, -74.870, -74.838, -74.902, -74.926, -74.886, -74.907, -74.897, -74.918, -74.881,
               -74.951, -74.939, -74.962, -74.943, -74.934, -74.918, -74.926, -74.897, -74.910, -74.926,
               -74.918, -74.918, -74.902, -74.930, -74.902, -74.886, -74.926, -74.910, -74.907, -74.934,
               -74.902, -74.926, -74.926, -74.959, -74.943, -74.926, -74.914, -74.926, -74.962, -74.886,
               -74.910, -74.971, -74.897, -74.918, -74.914]

H2_MEAN_LINE_PROF = [0, 49, 84, 132, 160, 188, 216, 243, 264, 299, 340, 382, 451, 520, 589, 658, 728, 769, 825, 880,
                     935, 991, 1060, 1115, 1185, 1240, 1295, 1351, 1406, 1461, 1531, 1572, 1621, 1669, 1724, 1766, 1821, 1863, 1932, 1987,
                     2043, 2084, 2141, 2184, 2227, 2284, 2327, 2370, 2406, 2442, 2485, 2543, 2614, 2672, 2729, 2786, 2858, 2915, 2973, 3030,
                     3073, 3123, 3159, 3217, 3260, 3288, 3346, 3417, 3475, 3532, 3604, 3675, 3747, 3790, 3862, 3934, 3962, 3991, 4027, 4055,
                     4084, 4120, 4163, 4206, 4249, 4278, 4321, 4346, 4420, 4470]
H2_MEAN_LINE = [-64.871, -64.871, -64.850, -64.811, -64.809, -64.800, -64.794, -64.796, -64.809, -64.846,
                -64.892, -64.904, -64.905, -64.903, -64.900, -64.900, -64.903, -64.905, -64.900, -64.897,
                -64.901, -64.903, -64.898, -64.900, -64.900, -64.903, -64.900, -64.901, -64.903, -64.904,
                -64.898, -64.900, -64.907, -64.903, -64.904, -64.909, -64.920, -64.921, -64.917, -64.915,
                -64.916, -64.911, -64.909, -64.900, -64.897, -64.898, -64.895, -64.892, -64.894, -64.903,
                -64.910, -64.911, -64.914, -64.909, -64.903, -64.900, -64.898, -64.895, -64.900, -64.904,
                -64.909, -64.915, -64.907, -64.905, -64.905, -64.898, -64.897, -64.894, -64.900, -64.898,
                -64.898, -64.900, -64.903, -64.900, -64.897, -64.897, -64.896, -64.873, -64.862, -64.862,
                -64.880, -64.886, -64.886, -64.896, -64.907, -64.909, -64.905, -64.904, -64.900, -64.901]

H2_STD_LINE_PROF = [10, 53, 140, 227, 285, 343, 401, 488, 575, 691, 807, 894, 981, 1068, 1155, 1271, 1358, 1474, 1590, 1677,
                    1764, 1880, 1967, 2025, 2112, 2228, 2314, 2401, 2517, 2604, 2691, 2807, 2923, 3039, 3155, 3242, 3358, 3445, 3489, 3590,
                    3706, 3822, 3967, 4054, 4112, 4228, 4315, 4402, 4474]
H2_STD_LINE = [-74.885, -74.882, -74.838, -74.818, -74.826, -74.882, -74.927, -74.915, -74.932, -74.922,
               -74.907, -74.927, -74.907, -74.907, -74.927, -74.940, -74.952, -74.940, -74.922, -74.915,
               -74.958, -74.940, -74.958, -74.978, -74.958, -74.940, -74.915, -74.940, -74.940, -74.952,
               -74.915, -74.927, -74.932, -74.932, -74.947, -74.927, -74.907, -74.907, -74.952, -74.922,
               -74.902, -74.902, -74.932, -74.877, -74.882, -74.940, -74.932, -74.902, -74.915]

# y axis ranges and tick steps per panel
Y_RANGES = [[-65.504, -65.253], [-76.154, -74.684], [-65.029, -64.672],
            [-75.637, -74.275], [-65.029, -64.679], [-75.650, -74.240]]
Y_DTICK = [0.05, 0.2, 0.1, 0.2, 0.05, 0.2]
Y_MINOR = [0.01, 0.05, 0.01, 0.05, 0.01, 0.05]
Y_FMT = [".2f", ".1f", ".1f", ".1f", ".2f", ".1f"]

points = [(H1_MEAN_PTS_A, H1_MEAN_PTS_B), (H1_STD_PTS_A, H1_STD_PTS_B),
          (V2_MEAN_PTS_A, V2_MEAN_PTS_B), (V2_STD_PTS_A, V2_STD_PTS_B),
          (H2_MEAN_PTS_A, H2_MEAN_PTS_B), (H2_STD_PTS_A, H2_STD_PTS_B)]
lines = [(H1_MEAN_LINE_PROF, H1_MEAN_LINE), (H1_STD_LINE_PROF, H1_STD_LINE),
         (V2_MEAN_LINE_PROF, V2_MEAN_LINE), (V2_STD_LINE_PROF, V2_STD_LINE),
         (H2_MEAN_LINE_PROF, H2_MEAN_LINE), (H2_STD_LINE_PROF, H2_STD_LINE)]

DOT = "rgb(108,108,255)"
LINE = "rgb(90,90,245)"
AX = "#333333"
FONT = dict(family="DejaVu Sans", size=20, color="#222222")

fig = make_subplots(rows=6, cols=1, shared_xaxes=True, vertical_spacing=0,
                    row_heights=[187, 279, 279, 278, 278, 188])

for i in range(6):
    a, b = points[i]
    fig.add_trace(go.Scatter(x=SCATTER_PROFILE_A + SCATTER_PROFILE_B, y=a + b, mode="markers",
                             marker=dict(size=3.6, color=DOT), showlegend=False), row=i + 1, col=1)
    fig.add_trace(go.Scatter(x=lines[i][0], y=lines[i][1], mode="lines",
                             line=dict(color=LINE, width=1.6), showlegend=False), row=i + 1, col=1)
    fig.update_yaxes(row=i + 1, col=1, range=Y_RANGES[i], dtick=Y_DTICK[i], tickformat=Y_FMT[i],
                     side="right", ticks="inside", ticklen=22, tickwidth=1.3, tickcolor=AX,
                     minor=dict(dtick=Y_MINOR[i], ticks="inside", ticklen=11, tickwidth=1.2, tickcolor=AX),
                     mirror="ticks", showline=True, linecolor=AX, linewidth=1.5, automargin=False,
                     showgrid=False, zeroline=False, tickfont=FONT, ticklabelstandoff=1,
                     title=dict(text=UNIT_LABELS[i], font=FONT, standoff=22))
    fig.add_annotation(text=ROW_LABELS[i], textangle=-90, x=-0.0416, xref="paper",
                       y=0.5, yref="y%s domain" % ("" if i == 0 else i + 1),
                       showarrow=False, font=FONT, xanchor="center", yanchor="middle")

fig.update_xaxes(range=[0, PROFILE_MAX], dtick=1000, ticks="inside", ticklen=6, tickwidth=1.3,
                 tickcolor=AX, minor=dict(dtick=100, ticks="inside", ticklen=3, tickcolor=AX),
                 showline=True, linecolor=AX, linewidth=1.5, showgrid=False, zeroline=False,
                 showticklabels=False, automargin=False)
fig.update_xaxes(row=1, col=1, side="top", showticklabels=True, mirror="ticks",
                 tickfont=FONT, ticklabelstandoff=1,
                 title=dict(text="Profile", font=FONT, standoff=0))
fig.update_xaxes(row=6, col=1, ticks="", minor=dict(ticks=""))

# UTC axis along the bottom
fig.add_trace(go.Scatter(x=[T_START, T_END], y=[Y_RANGES[5][0]] * 2, mode="markers",
                         marker=dict(opacity=0), xaxis="x7", yaxis="y6",
                         showlegend=False, hoverinfo="skip"))
fig.update_layout(xaxis7=dict(type="date", overlaying="x6", anchor="y6", side="bottom",
                              range=[T_START, T_END], tick0="2024-01-01 00:25:00", dtick=30000,
                              tickformat="%H:%M:%S", ticks="inside", ticklen=7, tickwidth=1.3,
                              tickcolor=AX, minor=dict(dtick=10000, ticks="inside", ticklen=4, tickcolor=AX),
                              showline=True, linecolor=AX, linewidth=1.5, showgrid=False,
                              tickfont=FONT, ticklabelstandoff=-3, automargin=False,
                              title=dict(text="UTC", font=FONT, standoff=31)))

fig.update_layout(width=1362, height=1622, margin=dict(l=69, r=139, t=60, b=73),
                  plot_bgcolor="white", paper_bgcolor="white", showlegend=False, font=FONT)

fig.write_html("out.html", config={"displayModeBar": False},
               post_script="document.body.style.margin='0';")
